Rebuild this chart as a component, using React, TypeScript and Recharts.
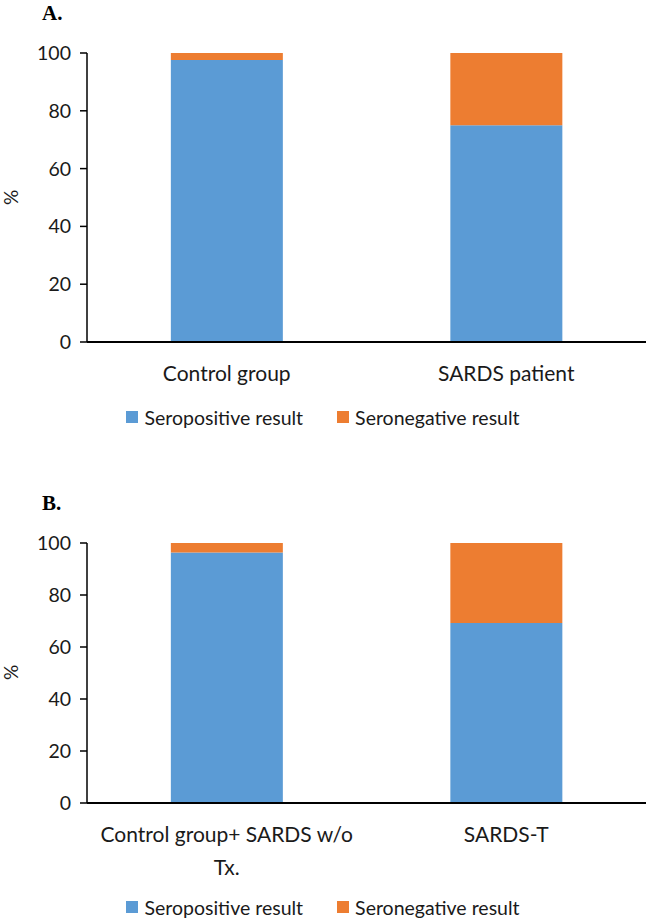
import { BarChart, Bar, XAxis, YAxis, Legend } from 'recharts';

const SERIES_NAMES = ['Seropositive result', 'Seronegative result'];
const SERIES_COLORS = ['#5B9BD5', '#ED7D31'];
const Y_TICKS = [0, 20, 40, 60, 80, 100];

const CATEGORIES_A = ['Control group', 'SARDS patient'];
const SEROPOSITIVE_A = [97.6, 75];
const SERONEGATIVE_A = [2.4, 25];

const CATEGORIES_B = ['Control group+ SARDS w/o Tx.', 'SARDS-T'];
const SEROPOSITIVE_B = [96.3, 69.2];
const SERONEGATIVE_B = [3.7, 30.8];

const FONT = 'Lato, "Open Sans", sans-serif';
const TEXT_COLOR = '#1a1a1a';
const MAX_LINE_CHARS = 24;
const LINE_H = 33;

// greedy word wrap, same as Excel does on narrow category bands
function wrapLabel(label: string): string[] {
  const lines: string[] = [];
  let cur = '';
  for (const w of label.split(' ')) {
    const next = cur ? cur + ' ' + w : w;
    if (next.length > MAX_LINE_CHARS && cur) {
      lines.push(cur);
      cur = w;
    } else {
      cur = next;
    }
  }
  if (cur) lines.push(cur);
  return lines;
}

const CategoryTick = (props: any) => {
  const { x, y, payload } = props;
  const lines = wrapLabel(payload.value);
  return (
    <text x={x} y={y} textAnchor="middle" fontSize={21} fontFamily={FONT} fill={TEXT_COLOR}>
      {lines.map((line, i) => (
        <tspan key={i} x={x} y={y + 37 + i * LINE_H}>
          {line}
        </tspan>
      ))}
    </text>
  );
};

const LegendContent = () => (
  <div
    style={{
      height: 24,
      display: 'flex',
      justifyContent: 'center',
      alignItems: 'center',
      gap: 34,
      fontFamily: FONT,
      fontSize: 19.5,
      color: TEXT_COLOR,
    }}
  >
    {SERIES_NAMES.map((name, i) => (
      <span key={name} style={{ display: 'flex', alignItems: 'center', gap: 6 }}>
        <span style={{ width: 12, height: 12, background: SERIES_COLORS[i], display: 'inline-block' }} />
        {name}
      </span>
    ))}
  </div>
);

interface PanelProps {
  title: string;
  top: number;
  categories: string[];
  pos: number[];
  neg: number[];
  xAxisHeight: number;
}

const Panel = ({ title, top, categories, pos, neg, xAxisHeight }: PanelProps) => {
  const data = categories.map((name, i) => ({ name, pos: pos[i], neg: neg[i] }));
  const plotTop = 53;
  const plotBottom = 429 - 24 - xAxisHeight;
  return (
    <div style={{ position: 'absolute', left: 0, top, width: 646, height: 429 }}>
      <div
        style={{
          position: 'absolute', left: 42, top: 1,
          fontFamily: '"Liberation Serif", "Times New Roman", serif',
          fontWeight: 'bold', fontSize: 21, color: '#000',
        }}
      >
        {title}
      </div>
      <div
        style={{
          position: 'absolute', left: 3, top: (plotTop + plotBottom) / 2 - 12,
          transform: 'rotate(-90deg)', fontFamily: FONT, fontSize: 19, color: TEXT_COLOR,
        }}
      >
        %
      </div>
      <BarChart
        width={646}
        height={429}
        data={data}
        margin={{ top: plotTop, right: 0, bottom: 0, left: 0 }}
        barCategoryGap="30%"
      >
        <XAxis
          dataKey="name"
          height={xAxisHeight}
          tick={<CategoryTick />}
          tickLine={false}
          tickSize={0}
          axisLine={{ stroke: '#000', strokeWidth: 2 }}
          interval={0}
        />
        <YAxis
          width={87}
          domain={[0, 100]}
          ticks={Y_TICKS}
          tickSize={7}
          tickMargin={9}
          tick={{ fontSize: 19.5, fontFamily: FONT, fill: TEXT_COLOR }}
          tickLine={{ stroke: '#000', strokeWidth: 1.5 }}
          axisLine={{ stroke: '#000', strokeWidth: 1.5 }}
        />
        <Legend verticalAlign="bottom" align="center" height={24} content={<LegendContent />} />
        <Bar dataKey="pos" name={SERIES_NAMES[0]} stackId="a" fill={SERIES_COLORS[0]} isAnimationActive={false} />
        <Bar dataKey="neg" name={SERIES_NAMES[1]} stackId="a" fill={SERIES_COLORS[1]} isAnimationActive={false} />
      </BarChart>
    </div>
  );
};

export default function App() {
  return (
    <div style={{ position: 'absolute', left: 0, top: 0, width: 646, height: 919, background: '#fff' }}>
      <Panel title="A." top={0} categories={CATEGORIES_A} pos={SEROPOSITIVE_A} neg={SERONEGATIVE_A} xAxisHeight={63} />
      <Panel title="B." top={490} categories={CATEGORIES_B} pos={SEROPOSITIVE_B} neg={SERONEGATIVE_B} xAxisHeight={92} />
    </div>
  );
}
